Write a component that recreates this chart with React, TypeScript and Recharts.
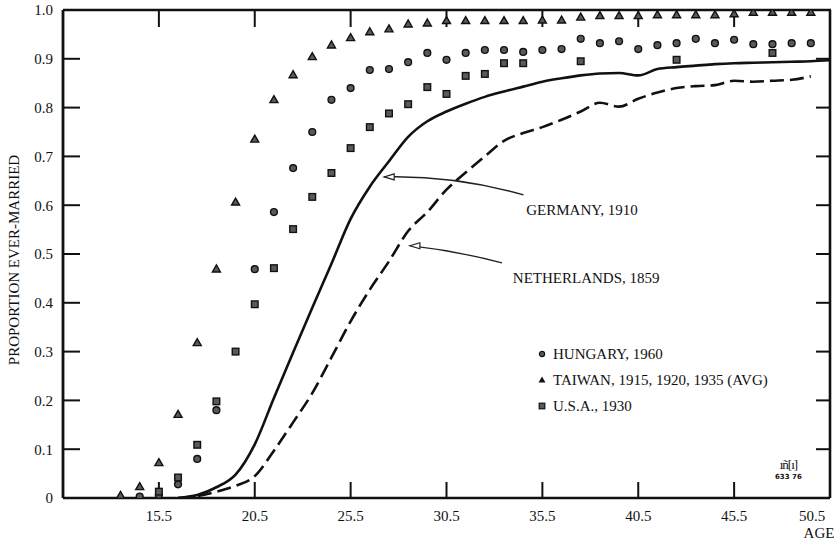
import React from 'react'
import { ComposedChart, Line, Scatter, XAxis, YAxis, ReferenceLine, ReferenceDot } from 'recharts'

const serif = "'Liberation Serif', 'Times New Roman', serif"
const ink = '#111'

// axis ticks
const ageTicks = [15.5, 20.5, 25.5, 30.5, 35.5, 40.5, 45.5, 50.5]
const innerAgeTicks = [15.5, 20.5, 25.5, 30.5, 35.5, 40.5, 45.5]
const proportionTicks = [0, 0.1, 0.2, 0.3, 0.4, 0.5, 0.6, 0.7, 0.8, 0.9, 1.0]
const innerProportionTicks = [0.1, 0.2, 0.3, 0.4, 0.5, 0.6, 0.7, 0.8, 0.9]

// Taiwan, 1915, 1920, 1935 (avg) - triangles
const taiwanAge = [13.5, 14.5, 15.5, 16.5, 17.5, 18.5, 19.5, 20.5, 21.5, 22.5, 23.5, 24.5, 25.5, 26.5, 27.5, 28.5, 29.5, 30.5, 31.5, 32.5, 33.5, 34.5, 35.5, 36.5, 37.5, 38.5, 39.5, 40.5, 41.5, 42.5, 43.5, 44.5, 45.5, 46.5, 47.5, 48.5, 49.5]
const taiwanValue = [0.005, 0.023, 0.072, 0.171, 0.318, 0.469, 0.606, 0.735, 0.816, 0.867, 0.904, 0.928, 0.943, 0.955, 0.961, 0.971, 0.973, 0.978, 0.978, 0.978, 0.978, 0.978, 0.979, 0.979, 0.985, 0.988, 0.988, 0.988, 0.99, 0.99, 0.99, 0.99, 0.992, 0.995, 0.995, 0.995, 0.995]

// Hungary, 1960 - circles
const hungaryAge = [14.5, 15.5, 16.5, 17.5, 18.5, 20.5, 21.5, 22.5, 23.5, 24.5, 25.5, 26.5, 27.5, 28.5, 29.5, 30.5, 31.5, 32.5, 33.5, 34.5, 35.5, 36.5, 37.5, 38.5, 39.5, 40.5, 41.5, 42.5, 43.5, 44.5, 45.5, 46.5, 47.5, 48.5, 49.5]
const hungaryValue = [0.003, 0.006, 0.028, 0.08, 0.18, 0.469, 0.586, 0.676, 0.75, 0.816, 0.84, 0.877, 0.879, 0.893, 0.912, 0.898, 0.912, 0.918, 0.918, 0.914, 0.918, 0.92, 0.941, 0.932, 0.936, 0.92, 0.928, 0.932, 0.941, 0.932, 0.939, 0.93, 0.93, 0.932, 0.932]

// U.S.A., 1930 - squares
const usaAge = [15.5, 16.5, 17.5, 18.5, 19.5, 20.5, 21.5, 22.5, 23.5, 24.5, 25.5, 26.5, 27.5, 28.5, 29.5, 30.5, 31.5, 32.5, 33.5, 34.5, 37.5, 42.5, 47.5]
const usaValue = [0.013, 0.042, 0.109, 0.198, 0.3, 0.397, 0.471, 0.551, 0.617, 0.666, 0.717, 0.76, 0.788, 0.807, 0.842, 0.828, 0.865, 0.869, 0.891, 0.891, 0.895, 0.898, 0.912]

// Germany, 1910 - solid line
const germanyAge = [16.5, 17.5, 18.5, 19.5, 20.5, 21.5, 22.5, 23.5, 24.5, 25.5, 26.5, 27.5, 28.5, 29.5, 30.5, 31.5, 32.5, 33.5, 34.5, 35.5, 36.5, 37.5, 38.5, 39.5, 40.5, 41.5, 42.5, 43.5, 44.5, 45.5, 46.5, 47.5, 48.5, 49.5, 50.5]
const germanyValue = [0, 0.006, 0.022, 0.048, 0.11, 0.205, 0.298, 0.39, 0.48, 0.572, 0.638, 0.69, 0.74, 0.772, 0.792, 0.808, 0.822, 0.833, 0.843, 0.853, 0.86, 0.866, 0.87, 0.871, 0.866, 0.879, 0.883, 0.886, 0.889, 0.891, 0.892, 0.893, 0.894, 0.895, 0.897]

// Netherlands, 1859 - dashed line
const netherlandsAge = [16.5, 17.5, 18.5, 19.5, 20.5, 21.5, 22.5, 23.5, 24.5, 25.5, 26.5, 27.5, 28.5, 29.5, 30.5, 31.5, 32.5, 33.5, 34.5, 35.5, 36.5, 37.5, 38.5, 39.5, 40.5, 41.5, 42.5, 43.5, 44.5, 45.5, 46.5, 47.5, 48.5, 49.5]
const netherlandsValue = [0, 0.004, 0.013, 0.025, 0.045, 0.097, 0.155, 0.215, 0.288, 0.362, 0.427, 0.485, 0.547, 0.586, 0.632, 0.667, 0.7, 0.732, 0.748, 0.76, 0.775, 0.792, 0.81, 0.802, 0.818, 0.831, 0.84, 0.844, 0.846, 0.855, 0.853, 0.855, 0.857, 0.864]

const pairs = (xs: number[], ys: number[]) => xs.map((x, i) => ({ x, y: ys[i] }))
const taiwan = pairs(taiwanAge, taiwanValue)
const hungary = pairs(hungaryAge, hungaryValue)
const usa = pairs(usaAge, usaValue)
const germany = pairs(germanyAge, germanyValue)
const netherlands = pairs(netherlandsAge, netherlandsValue)

const AGE_MIN = 10.5
const AGE_MAX = 50.5

// two interior reference points; the frame shape derives the axis mapping from them
const FRAME_A = { x: 20.5, y: 0.2 }
const FRAME_B = { x: 40.5, y: 0.8 }

const markFill = '#5a5a5a'

const CircleMark = (p: any) => <circle cx={p.cx} cy={p.cy} r={3.4} fill={markFill} stroke={ink} strokeWidth={1.4} />
const TriangleMark = (p: any) => (
  <polygon points={`${p.cx},${p.cy - 4.2} ${p.cx + 4},${p.cy + 2.8} ${p.cx - 4},${p.cy + 2.8}`} fill={markFill} stroke={ink} strokeWidth={1.4} />
)
const SquareMark = (p: any) => <rect x={p.cx - 3.3} y={p.cy - 3.3} width={6.6} height={6.6} fill={markFill} stroke={ink} strokeWidth={1.4} />

function AgeTick({ x, y, payload }: any) {
  // the last label sits left of the corner in the original
  const shift = payload.value === 50.5 ? -14 : 0
  return (
    <text x={x + shift} y={y} dy="0.71em" textAnchor="middle" fontFamily={serif} fontSize={15} fill={ink}>
      {payload.value.toFixed(1)}
    </text>
  )
}

// top/right frame edges plus inward ticks on all four sides
const frameShape = (p: any) => {
  const kx = (p.x2 - p.x1) / (FRAME_B.x - FRAME_A.x)
  const ky = (p.y2 - p.y1) / (FRAME_B.y - FRAME_A.y)
  const px = (v: number) => p.x1 + (v - FRAME_A.x) * kx
  const py = (v: number) => p.y1 + (v - FRAME_A.y) * ky
  const left = px(AGE_MIN)
  const right = px(AGE_MAX)
  const top = py(1)
  const bottom = py(0)
  return (
    <g stroke={ink} fill="none">
      <line x1={left} y1={top} x2={right + 1} y2={top} strokeWidth={2.4} />
      <line x1={right} y1={top} x2={right} y2={bottom} strokeWidth={2.6} />
      {innerAgeTicks.map((t) => (
        <g key={`a${t}`}>
          <line x1={px(t)} y1={bottom} x2={px(t)} y2={bottom - 16} strokeWidth={2} />
          <line x1={px(t)} y1={top} x2={px(t)} y2={top + 17} strokeWidth={2} />
        </g>
      ))}
      {innerProportionTicks.map((v) => (
        <g key={`p${v}`}>
          <line x1={left} y1={py(v)} x2={left + 17} y2={py(v)} strokeWidth={2} />
          <line x1={right} y1={py(v)} x2={right - 14} y2={py(v)} strokeWidth={2} />
        </g>
      ))}
    </g>
  )
}

// curved pointer with an open arrow head at the second point
const arrowShape = (bend: number) => (p: any) => {
  const { x1, y1, x2, y2 } = p
  const cx = (x1 + x2) / 2
  const cy = (y1 + y2) / 2 - bend * (y1 - y2)
  return (
    <g>
      <path d={`M${x1},${y1} Q${cx},${cy} ${x2},${y2}`} fill="none" stroke="#222" strokeWidth={1.3} />
      <path d={`M${x2 + 10},${y2 - 3} L${x2},${y2} L${x2 + 10},${y2 + 3} Z`} fill="#fff" stroke="#222" strokeWidth={1.2} />
    </g>
  )
}

const noteStyle = { fill: ink, fontSize: 15, fontFamily: serif }

function LegendRow({ kind, text }: { kind: string; text: string }) {
  return (
    <div style={{ display: 'flex', alignItems: 'center', height: 26 }}>
      <svg width={10} height={10} style={{ marginRight: 6 }}>
        {kind === 'circle' && <circle cx={5} cy={5} r={2.6} fill={markFill} stroke={ink} strokeWidth={1.2} />}
        {kind === 'triangle' && <polygon points="5,1.5 8.5,7.5 1.5,7.5" fill={ink} />}
        {kind === 'square' && <rect x={2.2} y={2.2} width={5.6} height={5.6} fill={markFill} stroke={ink} strokeWidth={1.2} />}
      </svg>
      <span>{text}</span>
    </div>
  )
}

export default function App() {
  return (
    <div style={{ position: 'absolute', left: 0, top: 0, width: 840, height: 544, background: '#fff' }}>
      <ComposedChart width={840} height={544} margin={{ top: 10, right: 10, bottom: 0, left: 0 }}>
        <XAxis
          dataKey="x"
          type="number"
          domain={[AGE_MIN, AGE_MAX]}
          allowDataOverflow
          ticks={ageTicks}
          tick={<AgeTick />}
          tickLine={false}
          tickMargin={6}
          height={46}
          axisLine={{ stroke: ink, strokeWidth: 2.6 }}
          label={{
            content: ({ viewBox }: any) => (
              <text x={viewBox.x + viewBox.width - 11} y={viewBox.y + 40} textAnchor="middle" fontFamily={serif} fontSize={15} fill={ink}>
                AGE
              </text>
            ),
          }}
        />
        <YAxis
          dataKey="y"
          type="number"
          domain={[0, 1]}
          allowDataOverflow
          ticks={proportionTicks}
          tickFormatter={(v: number) => (v === 0 ? '0' : v.toFixed(1))}
          tick={{ fontSize: 15, fill: ink, fontFamily: serif }}
          tickLine={false}
          tickMargin={4}
          width={63}
          axisLine={{ stroke: ink, strokeWidth: 2.8 }}
          label={{
            content: ({ viewBox }: any) => {
              const lx = viewBox.x + 14
              const ly = viewBox.y + viewBox.height / 2 + 6
              return (
                <text x={lx} y={ly} transform={`rotate(-90 ${lx} ${ly})`} textAnchor="middle" dominantBaseline="central" fontFamily={serif} fontSize={15} fill={ink}>
                  PROPORTION EVER-MARRIED
                </text>
              )
            },
          }}
        />

        <Line data={germany} dataKey="y" type="monotone" stroke={ink} strokeWidth={2.6} dot={false} isAnimationActive={false} legendType="none" />
        <Line data={netherlands} dataKey="y" type="monotone" stroke={ink} strokeWidth={2.6} strokeDasharray="14 6" dot={false} isAnimationActive={false} legendType="none" />

        <Scatter name="HUNGARY, 1960" data={hungary} shape={CircleMark} isAnimationActive={false} />
        <Scatter name="TAIWAN, 1915, 1920, 1935 (AVG)" data={taiwan} shape={TriangleMark} isAnimationActive={false} />
        <Scatter name="U.S.A., 1930" data={usa} shape={SquareMark} isAnimationActive={false} />

        <ReferenceLine segment={[FRAME_A, FRAME_B]} shape={frameShape} />
        <ReferenceLine segment={[{ x: 34.52, y: 0.621 }, { x: 27.25, y: 0.658 }]} shape={arrowShape(0.6)} />
        <ReferenceLine segment={[{ x: 33.39, y: 0.482 }, { x: 28.59, y: 0.517 }]} shape={arrowShape(0.2)} />
        <ReferenceDot x={34.4} y={0.59} r={0} fill="none" stroke="none" label={{ value: 'GERMANY, 1910', position: 'right', ...noteStyle }} />
        <ReferenceDot x={33.7} y={0.451} r={0} fill="none" stroke="none" label={{ value: 'NETHERLANDS, 1859', position: 'right', ...noteStyle }} />
      </ComposedChart>

      <div style={{ position: 'absolute', left: 537, top: 341, fontFamily: serif, fontSize: 15, color: ink }}>
        <LegendRow kind="circle" text="HUNGARY, 1960" />
        <LegendRow kind="triangle" text="TAIWAN, 1915, 1920, 1935 (AVG)" />
        <LegendRow kind="square" text="U.S.A., 1930" />
      </div>

      <div style={{ position: 'absolute', left: 775, top: 458, fontFamily: serif, color: ink, textAlign: 'center', lineHeight: 1 }}>
        <div style={{ fontSize: 13, letterSpacing: -1 }}>ıñ[ı]</div>
        <div style={{ fontSize: 7, fontWeight: 700, fontFamily: 'DejaVu Sans', marginTop: 3 }}>633 76</div>
      </div>
    </div>
  )
}
